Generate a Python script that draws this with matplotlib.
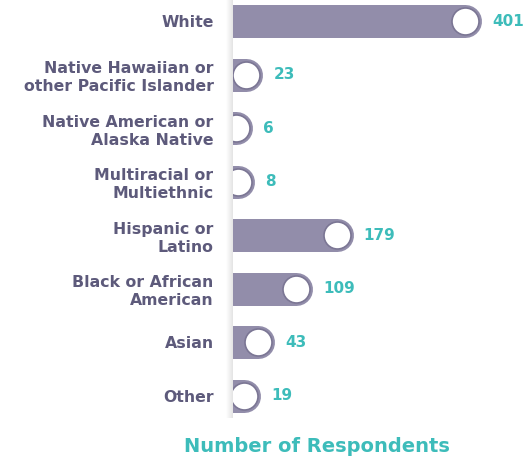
import matplotlib
matplotlib.use("Agg")
import matplotlib.pyplot as plt
import numpy as np

categories = ["White", "Native Hawaiian or\nother Pacific Islander", "Native American or\nAlaska Native",
              "Multiracial or\nMultiethnic", "Hispanic or\nLatino", "Black or African\nAmerican",
              "Asian", "Other"]
values = [401, 23, 6, 8, 179, 109, 43, 19]
title = "Number of Respondents"

BAR = "#928daa"
EDGE = "#7b7694"
LABEL = "#5d5a7b"
TEAL = "#3dbcba"

W, H = 531, 467
fig = plt.figure(figsize=(W / 100, H / 100), dpi=100)
ax = fig.add_axes([233 / W, (H - 420) / H, (W - 233) / W, 420 / H])

y = np.arange(len(categories))
lc = ax.hlines(y, 0, values, colors=BAR, linewidth=33 * 0.72)
lc.set_capstyle("round")
ax.scatter(values, y, s=(27 * 0.72) ** 2, facecolor="white", edgecolor=EDGE,
           linewidth=1.2, zorder=3)
for yi, v in zip(y, values):
    ax.annotate(str(v), (v, yi), xytext=(27 * 0.72, 0), textcoords="offset points",
                ha="left", va="center", color=TEAL, fontsize=11, fontweight="bold",
                annotation_clip=False)

ax.set_xlim(0, 515)
ax.set_ylim(7.448, -0.392)
ax.set_yticks(y)
ax.set_yticklabels(categories, fontsize=11.3, fontweight="bold", color=LABEL,
                   linespacing=1.25)
ax.tick_params(axis="y", length=0, pad=14)
ax.set_xticks([])
for s in ax.spines.values():
    s.set_visible(False)

# faint shadow strip at the left edge of the bars
shade = fig.add_axes([226 / W, (H - 418) / H, 9 / W, 418 / H], zorder=-1)
grad = np.linspace(0, 1, 20)[None, :]
shade.imshow(grad, aspect="auto", cmap=matplotlib.colors.LinearSegmentedColormap.from_list(
    "s", ["#ffffff", "#dcdcdc"]), extent=(0, 1, 0, 1))
shade.axis("off")

fig.text(317 / W, 1 - 446 / H, title, ha="center", va="center", color=TEAL,
         fontsize=14, fontweight="bold")

fig.savefig("out.png", dpi=100)
